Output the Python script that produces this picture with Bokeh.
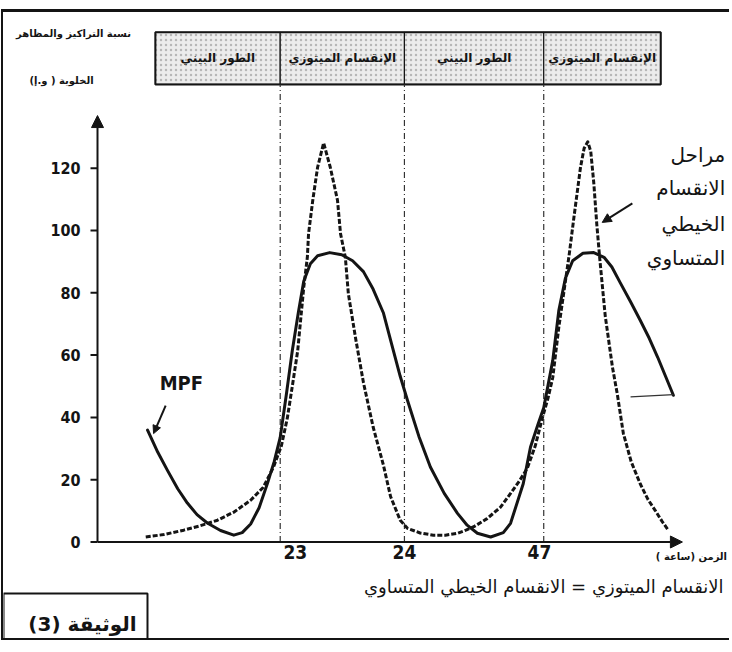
from bokeh.plotting import figure
from bokeh.models import (Range1d, LinearAxis, FixedTicker, Arrow, NormalHead,
                          Label, BoxAnnotation)
from bokeh.embed import file_html
from bokeh.resources import INLINE
from bokeh.core.properties import value

# ---------------- data ----------------
# MPF concentration (solid line); x = position along the time axis
mpf_x = [8.3, 10.0, 11.6, 13.3, 14.9, 16.5, 18.2, 20.4, 22.6, 24.0, 25.4, 26.8,
         28.2, 29.3, 30.3, 31.3, 32.3, 33.3, 34.2, 35.3, 36.5, 38.5, 40.5, 42.3,
         44.1, 45.7, 47.4, 48.8, 50.2, 51.4, 53.3, 55.2, 57.5, 59.7, 61.3, 63.0,
         65.2, 67.3, 68.5, 70.6, 71.8, 73.0, 74.0, 75.5, 76.5, 77.6, 78.8, 80.5,
         82.3, 84.0, 85.3, 86.7, 88.4, 90.0, 91.5, 92.9, 94.2, 95.5]
mpf_y = [35.9, 28.8, 23.0, 17.1, 12.5, 8.8, 6.1, 3.7, 2.2, 3.0, 5.8, 11.0,
         18.9, 25.8, 33.6, 47.1, 61.4, 73.6, 83.7, 89.3, 91.9, 92.9, 92.2, 90.3,
         86.8, 81.2, 73.6, 63.4, 53.2, 45.5, 33.9, 24.1, 15.6, 9.2, 5.4, 2.8,
         1.6, 3.0, 6.0, 18.7, 30.4, 37.5, 43.1, 58.3, 74.3, 84.7, 90.3, 92.7,
         92.9, 91.4, 88.3, 83.2, 77.1, 71.2, 65.4, 59.3, 53.2, 47.1]

# stages of mitosis (dashed line)
phase_x = [8.0, 11.0, 14.3, 17.0, 19.9, 22.7, 25.4, 27.5, 29.2, 30.5, 31.5, 32.4,
           33.2, 34.2, 34.8, 35.0, 35.7, 36.5, 37.5, 38.6, 39.8, 40.3, 41.1, 41.6,
           42.8, 44.1, 45.7, 47.4, 48.6, 50.2, 51.4, 53.5, 55.7, 57.7, 59.7, 61.2,
           62.4, 64.6, 66.8, 68.5, 70.0, 71.3, 72.6, 73.8, 74.7, 75.5, 76.5, 77.3,
           78.2, 79.0, 80.1, 80.7, 81.3, 81.8, 82.3, 82.8, 83.3, 84.2, 85.4, 86.2,
           87.2, 88.5, 90.0, 91.3, 92.5, 93.6, 94.7]
phase_y = [1.6, 2.4, 3.8, 5.2, 7.0, 9.7, 13.4, 17.6, 24.1, 30.9, 40.0, 51.2,
           61.4, 81.7, 91.4, 99.0, 109.7, 120.3, 128.1, 120.3, 109.7, 99.0, 91.4, 79.7,
           65.4, 51.2, 37.0, 24.8, 14.6, 7.0, 4.4, 2.9, 2.2, 2.2, 2.8, 3.9,
           4.9, 7.5, 11.1, 15.6, 19.7, 23.8, 30.9, 40.0, 46.1, 52.8, 68.9, 79.7,
           91.9, 104.1, 120.3, 126.4, 128.5, 125.4, 115.3, 102.0, 90.8, 72.6, 56.1, 47.5,
           34.9, 25.8, 18.7, 13.6, 10.1, 6.7, 3.7]

# stray pen stroke next to the end of the MPF curve
stroke_x = [88.4, 95.5]
stroke_y = [46.6, 47.3]

# header: phase boundaries and names
phase_bounds = [9.6, 30.3, 50.9, 74.0, 93.4]
phase_names = ["الطور البيني", "الإنقسام الميتوزي", "الطور البيني", "الإنقسام الميتوزي"]

# axes
y_ticks = [0, 20, 40, 60, 80, 100, 120]
x_tick_pos = [32.8, 50.9, 73.3]
x_tick_labels = ["23", "24", "47"]

y_title = ["نسبة التراكيز والمظاهر", "الخلوية ( و.إ)"]
x_title = "الزمن (ساعة )"
stage_lines = ["مراحل", "الانقسام", "الخيطي", "المتساوي"]
note_text = "الانقسام الميتوزي = الانقسام الخيطي المتساوي"
doc_text = "الوثيقة (3)"
mpf_text = "MPF"

# ---------------- figure ----------------
INK = "#141414"
NARROW = "'Liberation Sans Narrow', 'DejaVu Sans Condensed', 'Roboto Condensed', sans-serif"
ARAB = "DejaVu Sans"

X0, X1 = -15.59, 105.14
Y0, Y1 = -32.58, 169.98

p = figure(width=728, height=631, output_backend="svg", toolbar_location=None,
           x_range=Range1d(X0, X1), y_range=Range1d(Y0, Y1),
           x_axis_type=None, y_axis_type=None,
           min_border_left=0, min_border_right=0, min_border_top=0, min_border_bottom=0)
p.outline_line_color = None
p.background_fill_color = "white"
p.border_fill_color = "white"
p.styles = {"margin-left": "1px", "margin-top": "9px",
            "border-top": "3px solid #141414", "border-left": "2px solid #141414",
            "border-bottom": "2px solid #141414"}

# y axis: tick labels only (drawn into the plot area with a negative standoff)
yaxis = LinearAxis(ticker=FixedTicker(ticks=y_ticks))
yaxis.axis_line_color = None
yaxis.major_tick_line_color = None
yaxis.major_tick_out = 0
yaxis.major_tick_in = 0
yaxis.minor_tick_line_color = None
yaxis.major_label_text_font = NARROW
yaxis.major_label_text_font_style = "bold"
yaxis.major_label_text_font_size = "16px"
yaxis.major_label_text_color = INK
yaxis.major_label_standoff = -77
p.add_layout(yaxis, "left")

# x axis: tick labels only
xaxis = LinearAxis(ticker=FixedTicker(ticks=x_tick_pos),
                   major_label_overrides={pos: lab for pos, lab in zip(x_tick_pos, x_tick_labels)})
xaxis.axis_line_color = None
xaxis.major_tick_line_color = None
xaxis.major_tick_out = 0
xaxis.major_tick_in = 0
xaxis.minor_tick_line_color = None
xaxis.major_label_text_font = NARROW
xaxis.major_label_text_font_style = "bold"
xaxis.major_label_text_font_size = "19px"
xaxis.major_label_text_color = INK
xaxis.major_label_standoff = -99
p.add_layout(xaxis, "below")

# y tick marks
p.segment(x0=[-1.16] * len(y_ticks), y0=y_ticks, x1=[0] * len(y_ticks), y1=y_ticks,
          line_width=2, line_color=INK)

# axis lines with arrow heads
p.add_layout(Arrow(end=NormalHead(size=12, fill_color=INK, line_color=INK),
                   x_start=0, y_start=0, x_end=97.0, y_end=0,
                   line_width=2, line_color=INK))
p.add_layout(Arrow(end=NormalHead(size=12, fill_color=INK, line_color=INK),
                   x_start=0, y_start=0, x_end=0, y_end=136.9,
                   line_width=2, line_color=INK))

# header table
hb, ht = 146.9, 163.6
p.quad(left=phase_bounds[:-1], right=phase_bounds[1:], bottom=hb, top=ht,
       fill_color="#ececec", hatch_pattern="dot", hatch_color="#8a8a8a",
       hatch_scale=5, hatch_alpha=0.55, line_color=INK, line_width=1.2)
p.quad(left=[phase_bounds[0]], right=[phase_bounds[-1]], bottom=hb, top=ht,
       fill_color=None, line_color=INK, line_width=2)
centers = [(a + b) / 2 for a, b in zip(phase_bounds[:-1], phase_bounds[1:])]
p.text(x=centers, y=[(hb + ht) / 2] * len(centers), text=phase_names,
       text_align="center", text_baseline="middle", text_font=value(ARAB),
       text_font_style="bold", text_font_size="12px", text_color=INK)

# dash-dot phase boundaries
inner = phase_bounds[1:-1]
p.segment(x0=inner, y0=[0] * len(inner), x1=inner, y1=[hb] * len(inner),
          line_dash="6 3 1 3", line_width=1.2, line_color="#333333")

# curves
p.line(phase_x, phase_y, line_width=3, line_color=INK, line_dash="5 2",
       line_join="round")
p.line(mpf_x, mpf_y, line_width=3, line_color=INK, line_join="round", line_cap="round")
p.line(stroke_x, stroke_y, line_width=1.2, line_color="#333333")

# texts
p.add_layout(Label(x=-3.98, y=163.2, text=y_title[0], text_align="center",
                   text_baseline="middle", text_font=ARAB, text_font_style="bold",
                   text_font_size="10px", text_color=INK))
p.add_layout(Label(x=-5.97, y=148.2, text=y_title[1], text_align="center",
                   text_baseline="middle", text_font=ARAB, text_font_style="bold",
                   text_font_size="10px", text_color=INK))

for i, line in enumerate(stage_lines):
    p.add_layout(Label(x=104.1, y=[124.1, 113.5, 102.2, 91.3][i], text=line,
                       text_align="right", text_baseline="middle", text_font=ARAB,
                       text_font_size="20px", text_color=INK))
p.add_layout(Arrow(end=NormalHead(size=9, fill_color=INK, line_color=INK),
                   x_start=88.7, y_start=108.7, x_end=83.7, y_end=102.6,
                   line_width=2, line_color=INK))

p.add_layout(Label(x=13.9, y=50.9, text=mpf_text, text_align="center",
                   text_baseline="middle", text_font=NARROW, text_font_style="bold",
                   text_font_size="20px", text_color=INK))
p.add_layout(Arrow(end=NormalHead(size=8, fill_color=INK, line_color=INK),
                   x_start=11.3, y_start=43.8, x_end=9.3, y_end=34.8,
                   line_width=2, line_color=INK))

p.add_layout(Label(x=104.4, y=-4.7, text=x_title, text_align="right",
                   text_baseline="middle", text_font=ARAB, text_font_style="bold",
                   text_font_size="10px", text_color=INK))

p.add_layout(Label(x=74.0, y=-14.3, text=note_text, text_align="center",
                   text_baseline="middle", text_font=ARAB, text_font_size="18px",
                   text_color=INK))

p.add_layout(BoxAnnotation(left=X0, right=8.29, top=-16.5, bottom=Y0,
                           fill_alpha=0, line_color=INK, line_width=2, line_alpha=1))
p.add_layout(Label(x=-2.49, y=-26.2, text=doc_text, text_align="center",
                   text_baseline="middle", text_font=ARAB, text_font_style="bold",
                   text_font_size="20px", text_color=INK))

open("out.html", "w").write(file_html(p, INLINE))
